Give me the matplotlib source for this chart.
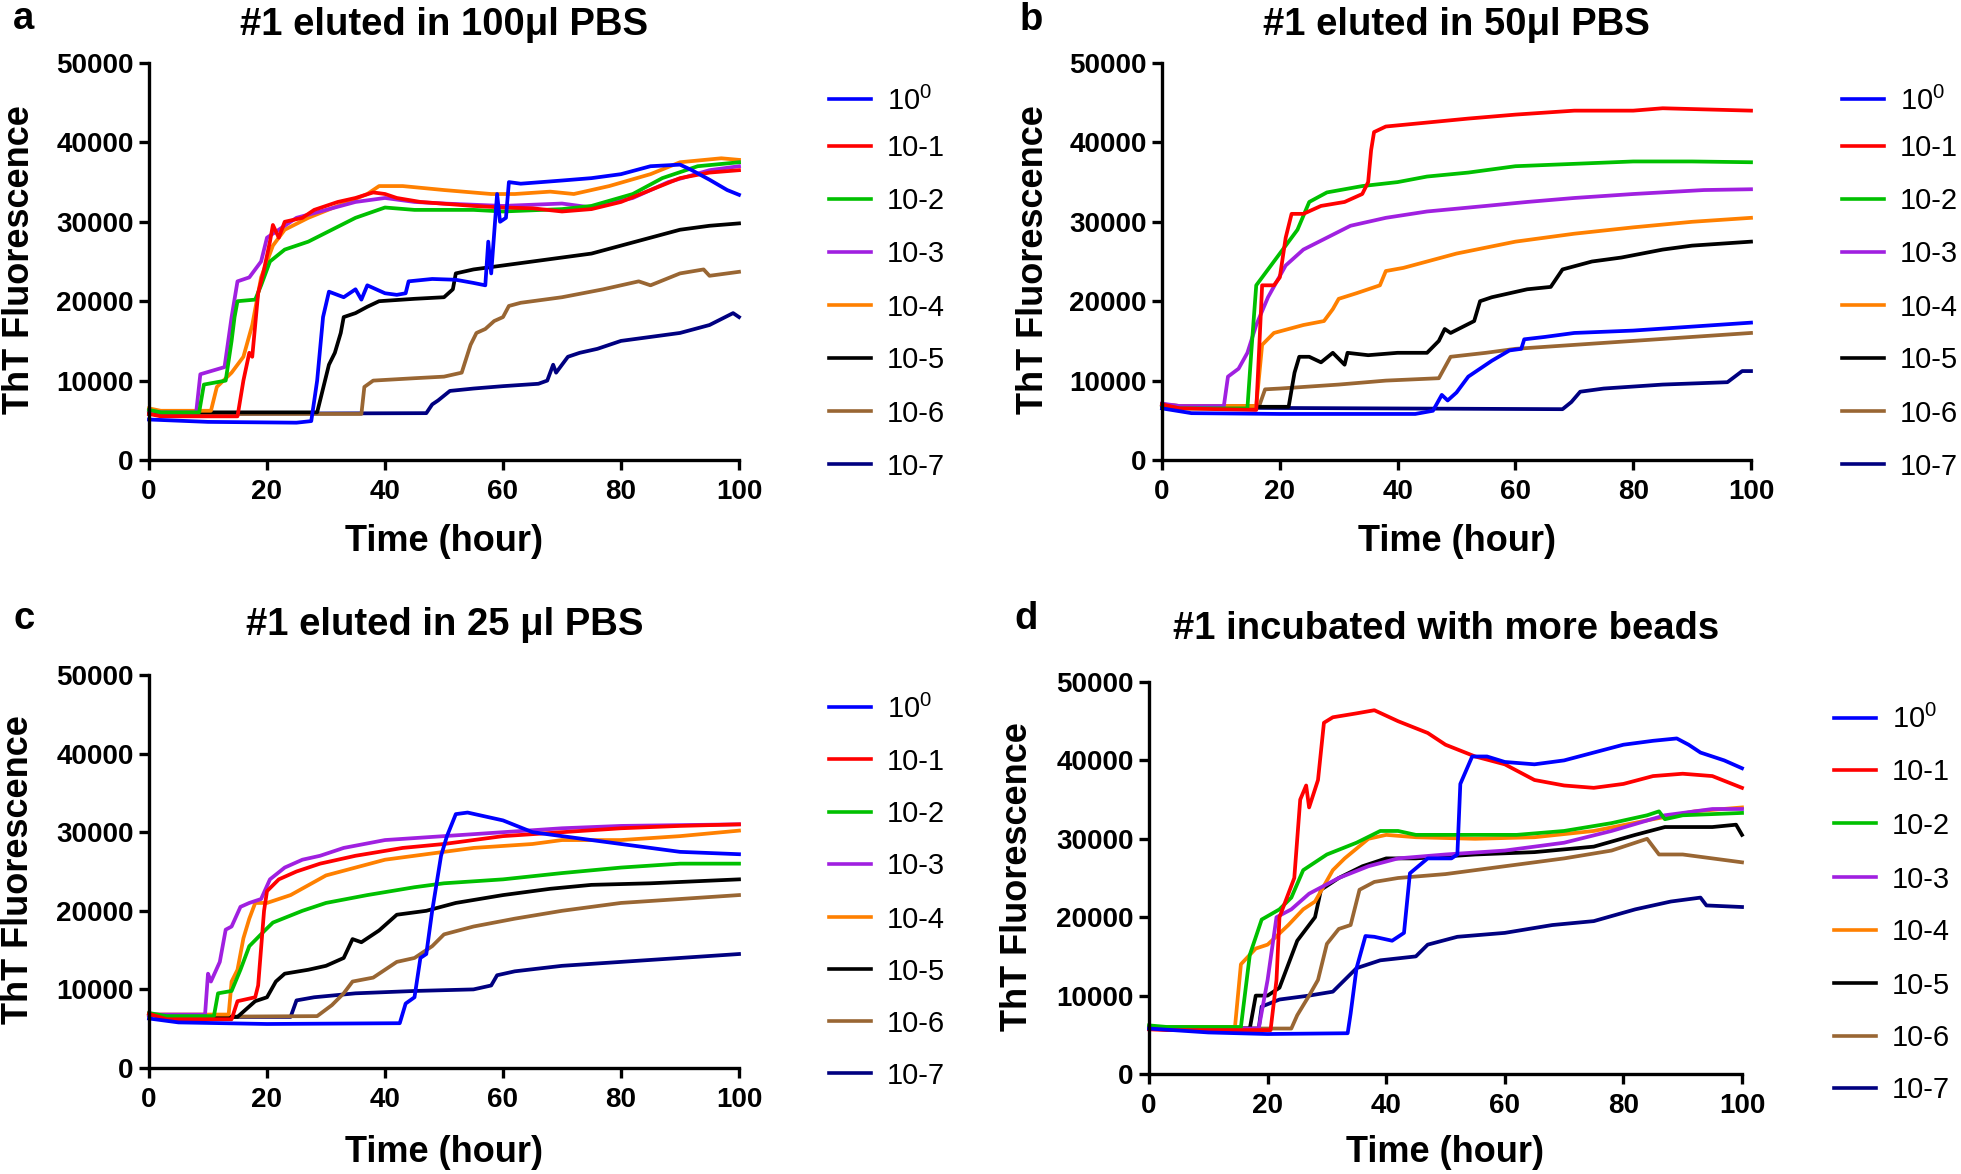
import matplotlib
matplotlib.use("Agg")
import matplotlib.pyplot as plt
from matplotlib.lines import Line2D
import numpy as np

plt.rcParams['font.family'] = ['Liberation Sans', 'DejaVu Sans']
plt.rcParams['mathtext.default'] = 'regular'

# dilution labels and colours (same in every panel)
labels = ['$10^0$', '10-1', '10-2', '10-3', '10-4', '10-5', '10-6', '10-7']
colors = ['#0000ff', '#ff0000', '#00c000', '#a020e0', '#ff8000', '#000000', '#996633', '#000080']

# ThT fluorescence (x1000), as (time h, value) pairs
# panel a: eluted in 100 ul PBS
a_1e0 = [(0, 5.1), (10, 4.8), (25, 4.7), (27.5, 4.9), (28.5, 10), (29.5, 18), (30.5, 21.2), (33, 20.5),
         (35, 21.5), (36, 20.2), (37, 22), (40, 21), (42, 20.8), (43.5, 21), (44, 22.5), (48, 22.8),
         (52, 22.7), (55, 22.3), (57, 22), (57.5, 27.5), (58, 23.5), (59, 33.5), (59.5, 30), (60.5, 30.5),
         (61, 35), (63, 34.8), (70, 35.2), (75, 35.5), (80, 36), (85, 37), (90, 37.2), (92, 36.5),
         (95, 35.3), (98, 34), (100, 33.4)]
a_1e1 = [(0, 5.8), (2, 5.5), (15, 5.5), (16, 10), (17, 13.5), (17.5, 13), (18, 17), (18.5, 21), (19.5, 24),
         (20.5, 27.5), (21, 29.6), (22, 28), (23, 30), (26, 30.5), (28, 31.5), (32, 32.5), (35, 33),
         (38, 33.7), (40, 33.5), (42, 33), (46, 32.5), (55, 32), (60, 31.8), (65, 31.7), (70, 31.3),
         (75, 31.6), (80, 32.5), (85, 34), (90, 35.5), (95, 36.2), (100, 36.5)]
a_1e2 = [(0, 6.3), (2, 6), (8.5, 6), (9.3, 9.5), (13, 10), (14, 15), (14.5, 18), (15, 20), (18, 20.2),
         (19, 22), (20.5, 25), (23, 26.5), (27, 27.5), (31, 29), (35, 30.5), (40, 31.8), (45, 31.5),
         (50, 31.5), (55, 31.5), (60, 31.3), (70, 31.6), (75, 32), (82, 33.5), (87, 35.5), (93, 37), (100, 37.5)]
a_1e3 = [(0, 6.2), (2, 6), (8, 6), (8.7, 10.8), (12.8, 11.7), (14, 18), (15, 22.5), (17, 23), (19, 25),
         (20, 28), (22, 29), (25, 30.5), (30, 31.5), (35, 32.5), (40, 33), (45, 32.5), (50, 32.3), (60, 32),
         (70, 32.3), (75, 31.8), (82, 33), (88, 35), (95, 36.5), (100, 37)]
a_1e4 = [(0, 6.5), (2, 6.2), (10.5, 6.2), (11.5, 9.2), (14, 11), (16, 13), (17.5, 17), (19, 23), (21, 27),
         (23, 29), (27, 30.5), (32, 32), (37, 33.5), (39, 34.5), (43, 34.5), (50, 34), (58, 33.5), (62, 33.5),
         (68, 33.8), (72, 33.5), (78, 34.5), (85, 36), (90, 37.5), (97, 38), (100, 37.8)]
a_1e5 = [(0, 6.0), (28.5, 6.0), (29.5, 9), (30.5, 12), (31.5, 13.5), (32.5, 16), (33, 18), (35, 18.5),
         (37, 19.3), (39, 20), (45, 20.3), (50, 20.5), (51.5, 21.5), (52, 23.5), (55, 24), (60, 24.5),
         (65, 25), (70, 25.5), (75, 26), (80, 27), (85, 28), (90, 29), (95, 29.5), (100, 29.8)]
a_1e6 = [(0, 5.8), (36, 5.8), (36.5, 9.2), (38, 10), (45, 10.3), (50, 10.5), (53, 11), (54.5, 14.5),
         (55.5, 16), (57, 16.5), (58.5, 17.5), (60, 18), (61, 19.4), (63, 19.8), (70, 20.5), (77, 21.5),
         (83, 22.5), (85, 22), (90, 23.5), (94, 24), (95, 23.2), (100, 23.7)]
a_1e7 = [(0, 5.8), (47, 5.9), (48, 7), (49, 7.5), (51, 8.7), (55, 9), (60, 9.3), (66, 9.6), (67.5, 10),
         (68.5, 12), (69, 11), (71, 13), (73, 13.5), (76, 14), (80, 15), (85, 15.5), (90, 16), (95, 17),
         (99, 18.5), (100, 18)]

# panel b: eluted in 50 ul PBS
b_1e0 = [(0, 6.5), (5, 5.9), (20, 5.8), (43, 5.8), (46, 6.2), (47.5, 8.2), (48.5, 7.5), (50, 8.5),
         (52, 10.5), (53, 11), (56, 12.5), (59, 13.8), (61, 14), (61.5, 15.2), (65, 15.5), (70, 16),
         (80, 16.3), (90, 16.8), (100, 17.3)]
b_1e1 = [(0, 7), (3, 6.5), (16, 6.3), (16.5, 14), (17, 22), (19, 22), (20, 23), (21, 28), (22, 31), (24, 31),
         (27, 32), (31, 32.5), (34, 33.5), (35, 35), (35.5, 39), (36, 41.3), (38, 42), (45, 42.5), (52, 43),
         (60, 43.5), (70, 44), (80, 44), (85, 44.3), (100, 44)]
b_1e2 = [(0, 6.9), (3, 6.5), (14.5, 6.5), (15.2, 14), (16, 22), (18, 24), (20, 26), (23, 29), (25, 32.5),
         (28, 33.7), (34, 34.5), (40, 35), (45, 35.7), (52, 36.2), (60, 37), (70, 37.3), (80, 37.6),
         (90, 37.6), (100, 37.5)]
b_1e3 = [(0, 7.1), (3, 6.8), (10.5, 6.8), (11.2, 10.5), (13, 11.5), (14.5, 13.5), (16, 17), (18, 20.5),
         (21, 24.5), (24, 26.5), (28, 28), (32, 29.5), (38, 30.5), (45, 31.3), (55, 32), (62, 32.5),
         (70, 33), (80, 33.5), (92, 34), (100, 34.1)]
b_1e4 = [(0, 7.0), (3, 6.8), (16, 6.8), (17, 14.5), (19, 16), (24, 17), (27.5, 17.5), (29, 19), (30, 20.3),
         (33, 21), (37, 22), (38, 23.8), (41, 24.2), (45, 25), (50, 26), (60, 27.5), (70, 28.5), (80, 29.3),
         (90, 30), (100, 30.5)]
b_1e5 = [(0, 7), (3, 6.7), (21.5, 6.7), (22.5, 11), (23.3, 13), (25, 13), (27, 12.3), (29, 13.5), (31, 12),
         (31.5, 13.5), (35, 13.2), (40, 13.5), (45, 13.5), (47, 15), (48, 16.5), (49, 16), (53, 17.5),
         (54, 20), (56, 20.5), (62, 21.5), (66, 21.8), (68, 24), (73, 25), (78, 25.5), (85, 26.5), (90, 27),
         (100, 27.5)]
b_1e6 = [(0, 7), (3, 6.8), (16.5, 6.8), (17.5, 8.9), (20, 9), (30, 9.5), (38, 10), (47, 10.3), (49, 13),
         (55, 13.5), (60, 14), (70, 14.5), (80, 15), (90, 15.5), (100, 16)]
b_1e7 = [(0, 6.8), (5, 6.6), (68, 6.4), (69.5, 7.3), (71, 8.6), (75, 9), (85, 9.5), (96, 9.8), (98.5, 11.2),
         (100, 11.2)]

# panel c: eluted in 25 ul PBS
c_1e0 = [(0, 6.3), (5, 5.8), (20, 5.6), (42.5, 5.7), (43.5, 8.2), (45, 9), (46, 14), (47, 14.5), (48, 20),
         (49.5, 27), (50.5, 29.5), (52, 32.3), (54, 32.5), (60, 31.5), (65, 30), (70, 29.5), (80, 28.5),
         (90, 27.5), (100, 27.2)]
c_1e1 = [(0, 6.9), (3, 6.2), (14, 6.2), (15, 8.5), (18, 9), (18.5, 10.5), (19.5, 20), (20, 22.5), (22, 24),
         (25, 25), (29, 26), (35, 27), (43, 28), (50, 28.5), (60, 29.5), (70, 30), (80, 30.5), (90, 30.8),
         (100, 31)]
c_1e2 = [(0, 7.0), (3, 6.6), (11, 6.6), (11.7, 9.5), (14, 9.8), (15.5, 12.5), (17, 15.5), (19.5, 17.4),
         (21, 18.5), (26, 20), (30, 21), (37, 22), (45, 23), (50, 23.5), (60, 24), (70, 24.8), (80, 25.5),
         (90, 26), (100, 26)]
c_1e3 = [(0, 6.8), (9.5, 6.8), (10, 12), (10.5, 11), (12, 13.5), (13, 17.6), (14, 18), (15.5, 20.5),
         (17, 21), (19, 21.5), (20.5, 24), (23, 25.5), (26, 26.5), (29, 27), (33, 28), (40, 29), (50, 29.5),
         (60, 30), (70, 30.5), (80, 30.8), (100, 31)]
c_1e4 = [(0, 6.8), (13.5, 6.8), (14, 11), (15, 12.5), (16, 16.5), (17, 19), (18, 21), (20, 21), (24, 22),
         (30, 24.5), (35, 25.5), (40, 26.5), (50, 27.5), (55, 28), (65, 28.5), (70, 29), (80, 29), (90, 29.5),
         (100, 30.2)]
c_1e5 = [(0, 6.8), (3, 6.5), (15, 6.5), (16.5, 7.5), (18, 8.5), (20, 9), (21.5, 11), (23, 12), (27, 12.5),
         (30, 13), (33, 14), (34.5, 16.4), (36, 16), (39, 17.5), (42, 19.5), (47, 20), (52, 21), (60, 22),
         (68, 22.8), (75, 23.3), (85, 23.5), (100, 24)]
c_1e6 = [(0, 6.8), (3, 6.5), (28.5, 6.6), (31, 8), (33, 9.5), (34.5, 11), (38, 11.5), (42, 13.5), (45, 14),
         (48, 15.5), (50, 17), (55, 18), (62, 19), (70, 20), (80, 21), (90, 21.5), (100, 22)]
c_1e7 = [(0, 6.8), (3, 6.5), (24, 6.5), (25, 8.6), (28, 9), (35, 9.5), (45, 9.8), (55, 10), (58, 10.5),
         (59, 11.8), (62, 12.3), (70, 13), (80, 13.5), (90, 14), (100, 14.5)]

# panel d: incubated with more beads
d_1e0 = [(0, 5.8), (10, 5.3), (20, 5.1), (33.5, 5.2), (34, 7.7), (35, 13.5), (36.5, 17.6), (38, 17.5),
         (41, 17), (43, 18), (44, 25.6), (47, 27.5), (51, 27.5), (52, 28), (52.5, 37), (54.5, 40.5),
         (57, 40.5), (60, 39.8), (65, 39.5), (70, 40), (75, 41), (80, 42), (85, 42.5), (89, 42.8), (91, 42),
         (93, 41), (97, 40), (100, 39)]
d_1e1 = [(0, 5.7), (3, 5.6), (20.5, 5.6), (21.5, 12), (22, 20), (24.5, 25), (25.5, 35), (26.5, 36.8),
         (27, 34), (28.5, 37.5), (29.5, 44.8), (31, 45.5), (35, 46), (38, 46.4), (42, 45), (47, 43.5),
         (50, 42), (55, 40.5), (60, 39.5), (65, 37.5), (70, 36.8), (75, 36.5), (80, 37), (85, 38), (90, 38.3),
         (95, 38), (100, 36.5)]
d_1e2 = [(0, 6.2), (3, 6), (15.5, 6), (17, 15.2), (19, 19.7), (22, 21), (24, 22.5), (26, 26), (30, 28),
         (35, 29.5), (39, 31), (42, 31), (45, 30.5), (55, 30.5), (62, 30.5), (70, 31), (78, 32), (84, 33),
         (86, 33.5), (87, 32.5), (90, 33), (100, 33.3)]
d_1e3 = [(0, 5.8), (18.5, 5.8), (20, 12), (21.5, 20), (24, 21), (27, 23), (32, 25), (37, 26.5), (42, 27.5),
         (50, 28), (60, 28.5), (70, 29.5), (78, 31), (87, 33), (95, 33.8), (100, 33.8)]
d_1e4 = [(0, 6.0), (14.5, 6.0), (15.5, 14), (18, 16), (20, 16.5), (23.5, 19), (26, 21), (28, 22), (31, 26),
         (33, 27.5), (37, 30), (40, 30.5), (45, 30.2), (55, 30), (65, 30.2), (75, 31), (85, 32.5), (92, 33.5),
         (100, 34)]
d_1e5 = [(0, 5.8), (17, 5.8), (18, 10), (20, 10), (22, 11), (23.5, 14), (25, 17), (28, 20), (29, 23.5),
         (32, 25), (36, 26.5), (40, 27.5), (45, 27.5), (55, 28), (65, 28.3), (75, 29), (82, 30.5), (87, 31.5),
         (95, 31.5), (99, 31.8), (100, 30.5)]
d_1e6 = [(0, 5.8), (24, 5.8), (25, 7.5), (27, 10), (28.5, 12), (30, 16.6), (32, 18.5), (34, 19),
         (35.5, 23.5), (38, 24.5), (42, 25), (50, 25.5), (60, 26.5), (70, 27.5), (78, 28.5), (84, 30),
         (86, 28), (90, 28), (95, 27.5), (100, 27)]
d_1e7 = [(0, 5.8), (18.5, 5.8), (19, 8.6), (22, 9.5), (27, 10), (31, 10.5), (33, 12), (35, 13.5), (39, 14.5),
         (45, 15), (47, 16.5), (52, 17.5), (60, 18), (68, 19), (75, 19.5), (82, 21), (88, 22), (93, 22.5),
         (94, 21.5), (100, 21.3)]

titles = ['#1 eluted in 100\u03bcl PBS', '#1 eluted in 50\u03bcl PBS',
          '#1 eluted in 25 \u03bcl PBS', '#1 incubated with more beads']
letters = ['a', 'b', 'c', 'd']

W, H = 1961, 1174
fig = plt.figure(figsize=(W / 100, H / 100), dpi=100)


def fx(px):
    return px / W


def fy(py):
    return 1 - py / H


# axes boxes in pixels: left, right, top, bottom
boxes = [(149, 739, 63, 460), (1162, 1751, 63, 460), (149, 739, 675, 1068), (1149, 1742, 682, 1074)]
title_pos = [(444, 35), (1456, 35), (445, 635), (1446, 639)]
letter_pos = [(24, 29), (1031, 30), (24, 629), (1026, 629)]
# legend: x of handle start, y of each row centre (pixels)
legend_x = [829, 1842, 829, 1834]
legend_rows = [
    [99, 146, 199, 252, 305, 358, 411, 464],
    [99, 146, 199, 252, 305, 358, 411, 464],
    [707, 759, 812, 864, 917, 969, 1021, 1073],
    [718, 770, 823, 877, 930, 983, 1036, 1088],
]
ylab_x = [-0.220, -0.219, -0.222, -0.221]
ylab_y = [0.504, 0.504, 0.504, 0.503]
xlab_y = [-0.206, -0.206, -0.214, -0.201]

panels = [
    [a_1e0, a_1e1, a_1e2, a_1e3, a_1e4, a_1e5, a_1e6, a_1e7],
    [b_1e0, b_1e1, b_1e2, b_1e3, b_1e4, b_1e5, b_1e6, b_1e7],
    [c_1e0, c_1e1, c_1e2, c_1e3, c_1e4, c_1e5, c_1e6, c_1e7],
    [d_1e0, d_1e1, d_1e2, d_1e3, d_1e4, d_1e5, d_1e6, d_1e7],
]

for i, series in enumerate(panels):
    l, r, t, b = boxes[i]
    ax = fig.add_axes([fx(l), fy(b), fx(r - l), (b - t) / H])
    # draw from highest dilution first so 10^0 ends up on top
    for k in range(len(series) - 1, -1, -1):
        pts = np.array(series[k])
        ax.plot(pts[:, 0], pts[:, 1] * 1000, color=colors[k], lw=2.7, label=labels[k],
                solid_joinstyle='round', clip_on=False)
    ax.set_xlim(0, 100)
    ax.set_ylim(0, 50000)
    ax.set_xticks(np.arange(0, 101, 20))
    ax.set_yticks(np.arange(0, 50001, 10000))
    for s in ['top', 'right']:
        ax.spines[s].set_visible(False)
    for s in ['left', 'bottom']:
        ax.spines[s].set_linewidth(2.4)
    ax.tick_params(width=2.4, length=7, labelsize=20)
    ax.tick_params(axis='x', pad=7)
    ax.tick_params(axis='y', pad=4)
    for lab in ax.get_xticklabels() + ax.get_yticklabels():
        lab.set_fontweight('bold')
    ax.set_xlabel('Time (hour)', fontsize=26, fontweight='bold')
    ax.set_ylabel('ThT Fluorescence', fontsize=26, fontweight='bold')
    ax.xaxis.set_label_coords(0.5, xlab_y[i])
    ax.xaxis.label.set_va('center')
    ax.yaxis.set_label_coords(ylab_x[i], ylab_y[i])
    ax.yaxis.label.set_va('center')

    # legend drawn row by row, Prism style (no frame, uneven first row)
    lx = legend_x[i]
    for k, yc in enumerate(legend_rows[i]):
        fig.add_artist(Line2D([fx(lx), fx(lx + 42)], [fy(yc), fy(yc)], color=colors[k], lw=2.6,
                              transform=fig.transFigure))
        fig.text(fx(lx + 58), fy(yc + 10.5), labels[k], fontsize=21, ha='left', va='baseline')

    fig.text(fx(title_pos[i][0]), fy(title_pos[i][1]), titles[i], fontsize=27.5,
             fontweight='bold', ha='center', va='baseline')
    fig.text(fx(letter_pos[i][0]), fy(letter_pos[i][1]), letters[i], fontsize=27.5,
             fontweight='bold', ha='center', va='baseline')

fig.savefig('out.png', dpi=100)
